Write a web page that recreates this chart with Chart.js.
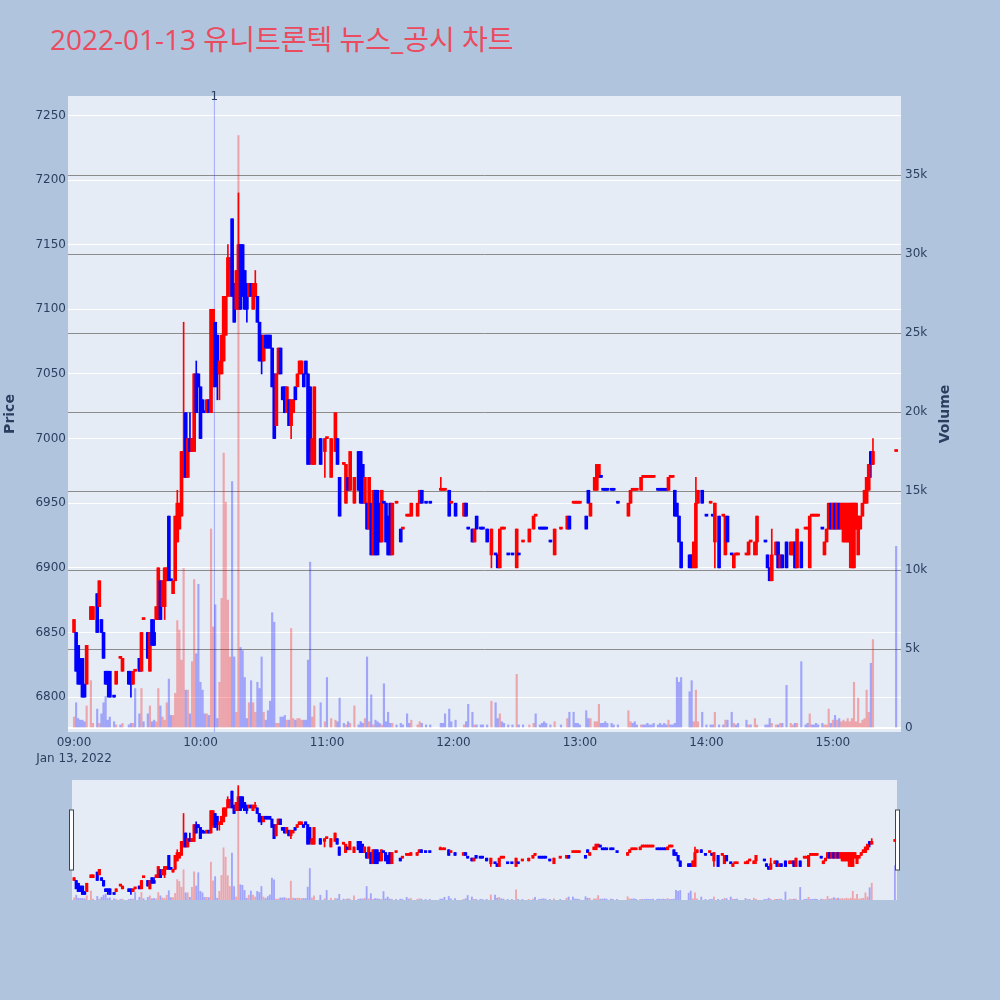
<!DOCTYPE html>
<html>
<head>
<meta charset="utf-8">
<script src="https://cdn.jsdelivr.net/npm/chart.js@4.4.1/dist/chart.umd.min.js"></script>
<style>
  body { margin: 0; width: 1000px; height: 1000px; background: #b0c4de; position: relative; overflow: hidden; }
  #chart-title {
    position: absolute; left: 50px; top: 25px; margin: 0;
    font: 28px/28px "Open Sans", "Noto Sans CJK KR", sans-serif;
    color: #eb4b5f; white-space: nowrap;
  }
  #main-chart { position: absolute; left: 0; top: 0; }
  #range-chart { position: absolute; left: 0; top: 770px; }
</style>
</head>
<body>
<div id="chart-title">2022-01-13 유니트론텍 뉴스_공시 차트</div>
<canvas id="main-chart" width="1000" height="770"></canvas>
<canvas id="range-chart" width="1000" height="230"></canvas>
<script>
// minutes after 09:00, one row per traded minute
const minutes = [
  0, 1, 2, 3, 4, 5, 6, 8, 9, 11,
  12, 13, 14, 15, 16, 17, 19, 20, 22, 23,
  26, 27, 28, 29, 31, 32, 33, 35, 36, 37,
  38, 39, 40, 41, 42, 43, 44, 45, 46, 47,
  48, 49, 50, 51, 52, 53, 54, 55, 56, 57,
  58, 59, 60, 61, 62, 63, 64, 65, 66, 67,
  68, 69, 70, 71, 72, 73, 74, 75, 76, 77,
  78, 79, 80, 81, 82, 83, 84, 85, 86, 87,
  88, 89, 90, 91, 92, 93, 94, 95, 96, 97,
  98, 99, 100, 101, 102, 103, 104, 105, 106, 107,
  108, 109, 110, 111, 112, 113, 114, 117, 119, 120,
  122, 124, 125, 126, 128, 129, 130, 131, 133, 135,
  136, 137, 138, 139, 140, 141, 142, 143, 144, 145,
  146, 147, 148, 149, 150, 151, 153, 155, 156, 158,
  159, 160, 163, 164, 165, 167, 169, 174, 175, 176,
  178, 179, 181, 185, 186, 187, 189, 190, 191, 193,
  194, 196, 198, 200, 201, 202, 203, 204, 206, 208,
  210, 211, 213, 216, 218, 219, 221, 222, 223, 224,
  226, 228, 231, 234, 235, 237, 238, 239, 240, 243,
  244, 245, 247, 248, 249, 250, 251, 252, 253, 255,
  256, 258, 263, 264, 265, 266, 267, 269, 270, 271,
  272, 273, 274, 275, 277, 278, 279, 280, 281, 282,
  283, 284, 285, 286, 287, 288, 292, 293, 294, 295,
  296, 298, 300, 302, 303, 304, 306, 308, 309, 310,
  312, 313, 314, 315, 319, 320, 321, 323, 324, 328,
  329, 330, 331, 333, 334, 335, 336, 338, 340, 341,
  342, 343, 345, 347, 348, 349, 350, 351, 352, 353,
  355, 356, 357, 358, 359, 360, 361, 362, 363, 364,
  365, 366, 367, 368, 369, 370, 371, 372, 373, 374,
  375, 376, 377, 378, 379, 390
];

const opens = [
  6850, 6850, 6840, 6830, 6830, 6810, 6810, 6860, 6860, 6880,
  6870, 6860, 6850, 6820, 6820, 6820, 6800, 6810, 6830, 6820,
  6820, 6820, 6810, 6820, 6830, 6820, 6860, 6850, 6820, 6860,
  6850, 6860, 6860, 6890, 6870, 6870, 6890, 6940, 6890, 6880,
  6890, 6920, 6930, 6940, 6970, 7020, 6970, 7000, 6990, 6990,
  7050, 7050, 7040, 7030, 7020, 7020, 7030, 7020, 7050, 7090,
  7080, 7050, 7050, 7060, 7080, 7110, 7130, 7170, 7120, 7100,
  7100, 7150, 7150, 7130, 7120, 7110, 7120, 7100, 7110, 7110,
  7090, 7080, 7060, 7080, 7080, 7080, 7070, 7050, 7010, 7050,
  7070, 7040, 7040, 7020, 7030, 7010, 7020, 7040, 7040, 7050,
  7050, 7050, 7060, 7050, 7040, 6980, 6980, 7000, 6990, 7000,
  6970, 6990, 7000, 6970, 6980, 6950, 6970, 6960, 6950, 6990,
  6990, 6980, 6950, 6950, 6930, 6950, 6910, 6960, 6960, 6950,
  6920, 6950, 6950, 6940, 6950, 6910, 6950, 6930, 6930, 6940,
  6940, 6940, 6940, 6950, 6960, 6950, 6950, 6960, 6960, 6960,
  6960, 6950, 6950, 6940, 6950, 6930, 6930, 6920, 6940, 6930,
  6930, 6930, 6910, 6910, 6910, 6900, 6930, 6930, 6910, 6910,
  6900, 6910, 6920, 6920, 6930, 6940, 6930, 6930, 6930, 6930,
  6920, 6910, 6930, 6930, 6940, 6950, 6950, 6950, 6950, 6940,
  6960, 6940, 6960, 6960, 6970, 6970, 6960, 6960, 6960, 6960,
  6960, 6950, 6940, 6950, 6960, 6960, 6960, 6960, 6970, 6970,
  6970, 6970, 6970, 6970, 6960, 6960, 6960, 6960, 6960, 6960,
  6970, 6970, 6960, 6950, 6940, 6920, 6910, 6910, 6900, 6900,
  6950, 6960, 6940, 6950, 6940, 6920, 6940, 6940, 6910, 6940,
  6910, 6900, 6910, 6910, 6910, 6910, 6920, 6910, 6920, 6920,
  6910, 6900, 6890, 6910, 6920, 6900, 6910, 6920, 6910, 6910,
  6920, 6900, 6920, 6930, 6930, 6900, 6940, 6940, 6940, 6940,
  6930, 6910, 6920, 6930, 6950, 6930, 6950, 6930, 6950, 6930,
  6920, 6920, 6920, 6920, 6900, 6900, 6930, 6910, 6930, 6940,
  6950, 6950, 6960, 6990, 6980, 6990
];

const highs = [
  6860, 6850, 6840, 6830, 6830, 6810, 6840, 6870, 6870, 6880,
  6890, 6860, 6850, 6820, 6820, 6820, 6800, 6820, 6830, 6830,
  6820, 6820, 6820, 6820, 6830, 6850, 6860, 6850, 6850, 6860,
  6860, 6870, 6900, 6890, 6890, 6900, 6900, 6940, 6890, 6890,
  6940, 6960, 6950, 6990, 7090, 7020, 7000, 7020, 7000, 7050,
  7060, 7050, 7040, 7030, 7020, 7030, 7030, 7100, 7100, 7090,
  7080, 7060, 7080, 7110, 7110, 7150, 7140, 7170, 7120, 7130,
  7190, 7150, 7150, 7130, 7120, 7120, 7120, 7120, 7130, 7110,
  7090, 7080, 7080, 7080, 7080, 7080, 7070, 7050, 7050, 7070,
  7070, 7040, 7040, 7040, 7030, 7030, 7030, 7040, 7050, 7060,
  7060, 7050, 7060, 7050, 7040, 7000, 7040, 7000, 7000, 7000,
  7000, 7020, 7000, 6970, 6980, 6980, 6970, 6990, 6970, 6990,
  6990, 6980, 6970, 6950, 6970, 6950, 6960, 6960, 6960, 6950,
  6960, 6950, 6950, 6940, 6950, 6950, 6950, 6930, 6930, 6940,
  6940, 6950, 6950, 6960, 6960, 6950, 6950, 6970, 6960, 6960,
  6960, 6950, 6950, 6950, 6950, 6930, 6930, 6930, 6940, 6930,
  6930, 6930, 6930, 6910, 6910, 6930, 6930, 6930, 6910, 6910,
  6930, 6910, 6920, 6930, 6940, 6940, 6930, 6930, 6930, 6930,
  6920, 6930, 6930, 6940, 6940, 6950, 6950, 6950, 6950, 6940,
  6960, 6950, 6970, 6980, 6980, 6970, 6960, 6960, 6960, 6960,
  6960, 6950, 6950, 6960, 6960, 6960, 6960, 6970, 6970, 6970,
  6970, 6970, 6970, 6970, 6960, 6960, 6960, 6960, 6960, 6970,
  6970, 6970, 6960, 6950, 6940, 6920, 6910, 6910, 6920, 6970,
  6960, 6960, 6940, 6950, 6940, 6950, 6940, 6940, 6940, 6940,
  6910, 6910, 6910, 6910, 6910, 6920, 6920, 6920, 6940, 6920,
  6910, 6900, 6930, 6920, 6920, 6910, 6910, 6920, 6920, 6920,
  6920, 6930, 6920, 6930, 6930, 6940, 6940, 6940, 6940, 6940,
  6930, 6920, 6930, 6950, 6950, 6950, 6950, 6950, 6950, 6950,
  6950, 6950, 6950, 6950, 6950, 6950, 6950, 6940, 6940, 6950,
  6960, 6970, 6980, 6990, 7000, 6990
];

const lows = [
  6850, 6820, 6810, 6810, 6800, 6800, 6810, 6860, 6860, 6850,
  6870, 6850, 6830, 6810, 6800, 6800, 6800, 6810, 6830, 6820,
  6810, 6800, 6810, 6820, 6820, 6820, 6860, 6830, 6820, 6840,
  6840, 6860, 6860, 6860, 6870, 6860, 6890, 6890, 6890, 6880,
  6890, 6920, 6930, 6940, 6970, 6970, 6970, 6990, 6990, 6990,
  7020, 7040, 7000, 7020, 7020, 7020, 7020, 7020, 7040, 7040,
  7030, 7030, 7050, 7060, 7080, 7110, 7110, 7110, 7090, 7100,
  7100, 7100, 7110, 7100, 7090, 7110, 7110, 7100, 7110, 7090,
  7060, 7050, 7060, 7070, 7070, 7070, 7040, 7000, 7010, 7050,
  7050, 7030, 7020, 7020, 7010, 7000, 7020, 7030, 7040, 7050,
  7050, 7040, 7050, 6980, 6980, 6980, 6980, 6980, 6970, 7000,
  6970, 6990, 6980, 6940, 6980, 6950, 6960, 6960, 6950, 6960,
  6950, 6950, 6950, 6930, 6930, 6910, 6910, 6910, 6910, 6920,
  6920, 6950, 6920, 6910, 6910, 6910, 6950, 6920, 6930, 6940,
  6940, 6940, 6940, 6950, 6950, 6950, 6950, 6960, 6960, 6960,
  6940, 6950, 6940, 6940, 6940, 6930, 6920, 6920, 6930, 6930,
  6930, 6920, 6900, 6910, 6900, 6900, 6930, 6930, 6910, 6910,
  6900, 6910, 6920, 6920, 6930, 6940, 6930, 6930, 6930, 6930,
  6920, 6910, 6930, 6930, 6930, 6950, 6950, 6950, 6950, 6930,
  6950, 6940, 6960, 6960, 6970, 6970, 6960, 6960, 6960, 6960,
  6960, 6950, 6940, 6950, 6960, 6960, 6960, 6960, 6970, 6970,
  6970, 6970, 6970, 6970, 6960, 6960, 6960, 6960, 6960, 6960,
  6970, 6970, 6940, 6940, 6920, 6900, 6900, 6900, 6900, 6900,
  6950, 6950, 6940, 6950, 6940, 6900, 6900, 6940, 6910, 6920,
  6910, 6900, 6910, 6910, 6910, 6910, 6920, 6910, 6910, 6920,
  6900, 6890, 6890, 6910, 6900, 6900, 6900, 6900, 6910, 6910,
  6900, 6900, 6900, 6930, 6930, 6900, 6940, 6940, 6940, 6940,
  6930, 6910, 6920, 6930, 6930, 6930, 6930, 6930, 6930, 6930,
  6920, 6920, 6920, 6900, 6900, 6900, 6930, 6910, 6930, 6940,
  6950, 6950, 6960, 6970, 6980, 6990
];

const closes = [
  6860, 6820, 6810, 6810, 6800, 6800, 6840, 6870, 6870, 6850,
  6890, 6850, 6830, 6810, 6810, 6800, 6800, 6820, 6830, 6830,
  6810, 6810, 6820, 6820, 6820, 6850, 6860, 6830, 6850, 6840,
  6840, 6870, 6900, 6860, 6890, 6900, 6900, 6890, 6890, 6890,
  6940, 6950, 6950, 6990, 6990, 6970, 7000, 6990, 7000, 7050,
  7020, 7040, 7000, 7020, 7020, 7030, 7020, 7100, 7100, 7040,
  7050, 7060, 7080, 7110, 7110, 7140, 7140, 7110, 7090, 7130,
  7150, 7100, 7110, 7100, 7100, 7120, 7110, 7120, 7120, 7090,
  7060, 7060, 7080, 7070, 7070, 7070, 7040, 7000, 7050, 7070,
  7050, 7030, 7020, 7040, 7010, 7030, 7030, 7030, 7050, 7060,
  7060, 7040, 7050, 6980, 6990, 7000, 7040, 6980, 7000, 7000,
  7000, 7020, 6980, 6940, 6980, 6980, 6960, 6990, 6970, 6960,
  6950, 6950, 6970, 6930, 6970, 6910, 6960, 6910, 6910, 6920,
  6960, 6950, 6920, 6910, 6910, 6950, 6950, 6920, 6930, 6940,
  6940, 6950, 6950, 6960, 6950, 6950, 6950, 6960, 6960, 6960,
  6940, 6950, 6940, 6950, 6940, 6930, 6920, 6930, 6930, 6930,
  6930, 6920, 6930, 6910, 6900, 6930, 6930, 6930, 6910, 6910,
  6930, 6910, 6920, 6930, 6940, 6940, 6930, 6930, 6930, 6930,
  6920, 6930, 6930, 6940, 6930, 6950, 6950, 6950, 6950, 6930,
  6950, 6950, 6970, 6980, 6980, 6970, 6960, 6960, 6960, 6960,
  6960, 6950, 6950, 6960, 6960, 6960, 6960, 6970, 6970, 6970,
  6970, 6970, 6970, 6970, 6960, 6960, 6960, 6960, 6960, 6970,
  6970, 6970, 6940, 6940, 6920, 6900, 6900, 6900, 6920, 6950,
  6960, 6950, 6940, 6950, 6940, 6950, 6900, 6940, 6940, 6920,
  6910, 6910, 6910, 6910, 6910, 6920, 6920, 6920, 6940, 6920,
  6900, 6890, 6910, 6920, 6900, 6910, 6900, 6900, 6920, 6920,
  6900, 6930, 6900, 6930, 6930, 6940, 6940, 6940, 6940, 6940,
  6930, 6920, 6930, 6950, 6930, 6950, 6930, 6950, 6930, 6950,
  6950, 6950, 6950, 6950, 6950, 6950, 6950, 6940, 6940, 6950,
  6960, 6970, 6980, 6980, 6990, 6990
];

const volumes = [
  700, 1600, 600, 500, 500, 400, 1400, 3000, 300, 1200,
  300, 900, 1600, 2000, 500, 700, 400, 200, 200, 300,
  200, 300, 300, 2500, 900, 2500, 400, 900, 1400, 400,
  500, 400, 2500, 1400, 700, 500, 1600, 3100, 800, 800,
  2200, 6800, 6200, 4300, 10100, 2400, 2400, 900, 4200, 9400,
  4700, 9100, 2900, 2400, 900, 900, 800, 12600, 6400, 7800,
  600, 2900, 8200, 17400, 14300, 8100, 4500, 15600, 4500, 1000,
  37500, 5100, 4900, 3200, 600, 1600, 3000, 1600, 1000, 2900,
  2500, 4500, 1000, 500, 1100, 1700, 7300, 6700, 300, 300,
  700, 700, 800, 500, 500, 6300, 600, 500, 600, 600,
  500, 500, 500, 4300, 10500, 700, 1400, 1600, 400, 3200,
  600, 500, 400, 1900, 300, 200, 400, 300, 1400, 200,
  400, 300, 600, 4500, 400, 2100, 200, 500, 400, 300,
  200, 2800, 400, 1000, 300, 300, 200, 300, 200, 900,
  300, 500, 200, 400, 300, 200, 200, 300, 300, 900,
  1200, 400, 500, 200, 400, 1500, 1000, 200, 200, 200,
  200, 200, 1700, 1600, 600, 900, 400, 300, 200, 200,
  3400, 200, 200, 200, 300, 900, 200, 300, 400, 300,
  200, 400, 200, 600, 1000, 1000, 300, 300, 200, 1100,
  600, 600, 400, 400, 1500, 300, 300, 400, 300, 300,
  200, 200, 1100, 400, 300, 400, 200, 200, 200, 200,
  300, 200, 200, 300, 200, 300, 200, 300, 200, 500,
  200, 200, 300, 3200, 2900, 3200, 2300, 3000, 400, 2400,
  400, 1000, 200, 200, 200, 1000, 200, 200, 500, 500,
  1000, 300, 200, 300, 500, 200, 200, 600, 200, 200,
  200, 600, 300, 200, 200, 300, 300, 2700, 300, 200,
  300, 300, 4200, 200, 300, 900, 200, 200, 300, 200,
  300, 200, 200, 1200, 300, 500, 800, 500, 600, 400,
  500, 400, 600, 400, 600, 2900, 400, 1900, 300, 500,
  600, 2400, 1000, 4100, 5600, 11500
];

const newsMinute = 66.6;
const newsLabel = '1';

const priceTicks = [6800, 6850, 6900, 6950, 7000, 7050, 7100, 7150, 7200, 7250];
const volumeTicks = [0, 5000, 10000, 15000, 20000, 25000, 30000, 35000];
const volumeTickLabels = ['0', '5k', '10k', '15k', '20k', '25k', '30k', '35k'];
const timeTicks = [0, 60, 120, 180, 240, 300, 360];
const timeLabels = ['09:00', '10:00', '11:00', '12:00', '13:00', '14:00', '15:00'];
const dateLabel = 'Jan 13, 2022';

const UP = '#ff0000';
const DOWN = '#0000ff';
const UP_VOL = 'rgba(255, 0, 0, 0.3)';
const DOWN_VOL = 'rgba(0, 0, 255, 0.3)';
const AXIS_TEXT = '#2a3f5f';
const FONT = '"DejaVu Sans", Verdana, sans-serif';

// flat candles take the direction of the move from the previous close
let prevClose = opens[0];
let prevUp = true;
const candleUp = closes.map((c, i) => {
  const o = opens[i];
  let up;
  if (c > o) up = true;
  else if (c < o) up = false;
  else up = c > prevClose ? true : (c < prevClose ? false : prevUp);
  prevClose = c;
  prevUp = up;
  return up;
});
const candleColors = candleUp.map(up => (up ? UP : DOWN));
const volumeColors = closes.map((c, i) => (c > opens[i] ? UP_VOL : DOWN_VOL));

function buildDatasets(bodyWidth, volWidth, withNews) {
  const sets = [
    {
      type: 'bar',
      yAxisID: 'yVol',
      data: minutes.map((m, i) => ({ x: m, y: volumes[i] })),
      backgroundColor: volumeColors,
      barThickness: volWidth,
      grouped: false,
      order: 3
    },
    {
      type: 'bar',
      yAxisID: 'yPrice',
      data: minutes.map((m, i) => ({ x: m, y: [lows[i], highs[i]] })),
      backgroundColor: candleColors,
      barThickness: 1,
      grouped: false,
      order: 1
    },
    {
      type: 'bar',
      yAxisID: 'yPrice',
      data: minutes.map((m, i) => ({ x: m, y: [opens[i], closes[i]] })),
      backgroundColor: candleColors,
      barThickness: bodyWidth,
      minBarLength: 2,
      grouped: false,
      order: 0
    }
  ];
  if (withNews) {
    sets.push({
      type: 'line',
      yAxisID: 'yVol',
      data: [{ x: newsMinute, y: -250 }, { x: newsMinute, y: 40000 }],
      borderColor: 'rgba(60, 70, 255, 0.4)',
      borderWidth: 1,
      pointRadius: 0,
      order: 2
    });
  }
  return sets;
}

const plotBackground = {
  id: 'plotBackground',
  beforeDraw(chart) {
    const { ctx, chartArea: a } = chart;
    ctx.save();
    ctx.fillStyle = '#e5ecf6';
    ctx.fillRect(a.left, a.top, a.right - a.left, a.bottom - a.top);
    ctx.restore();
  }
};

const mainExtras = {
  id: 'mainExtras',
  afterDraw(chart) {
    const { ctx, chartArea: a } = chart;
    ctx.save();
    ctx.fillStyle = AXIS_TEXT;
    ctx.font = '12px ' + FONT;
    ctx.textAlign = 'center';
    ctx.textBaseline = 'middle';
    ctx.fillText(newsLabel, chart.scales.x.getPixelForValue(newsMinute), a.top + 1);

    ctx.translate(945, (a.top + a.bottom) / 2);
    ctx.rotate(-Math.PI / 2);
    ctx.font = 'bold 14px ' + FONT;
    ctx.fillText('Volume', 0, 0);
    ctx.restore();
  }
};

new Chart(document.getElementById('main-chart'), {
  type: 'bar',
  data: { datasets: buildDatasets(3, 1.5, true) },
  options: {
    responsive: false,
    devicePixelRatio: 1,
    animation: false,
    events: [],
    layout: { padding: { top: 96, left: 0, right: 43, bottom: 0 } },
    plugins: { legend: { display: false }, tooltip: { enabled: false } },
    scales: {
      x: {
        type: 'linear',
        min: -2.85,
        max: 392.3,
        offset: false,
        afterBuildTicks: s => { s.ticks = timeTicks.map(v => ({ value: v })); },
        afterFit: s => { s.height = 38; },
        grid: { display: false, drawTicks: false },
        border: { display: false },
        ticks: {
          autoSkip: false,
          maxRotation: 0,
          padding: 3,
          color: AXIS_TEXT,
          font: { family: FONT, size: 12, lineHeight: 1.3 },
          callback: (v, i) => (i === 0 ? [timeLabels[0], dateLabel] : timeLabels[i])
        }
      },
      yPrice: {
        type: 'linear',
        position: 'left',
        min: 6773,
        max: 7265,
        afterBuildTicks: s => { s.ticks = priceTicks.map(v => ({ value: v })); },
        afterFit: s => { s.width = 68; },
        grid: { color: '#ffffff', lineWidth: 1, drawTicks: false },
        border: { display: false },
        ticks: {
          padding: 2,
          color: AXIS_TEXT,
          font: { family: FONT, size: 12 },
          callback: v => String(v)
        },
        title: {
          display: true,
          text: 'Price',
          color: AXIS_TEXT,
          font: { family: FONT, size: 14, weight: 'bold' },
          padding: { top: 2, bottom: 0 }
        }
      },
      yVol: {
        type: 'linear',
        position: 'right',
        min: -250,
        max: 40000,
        afterBuildTicks: s => { s.ticks = volumeTicks.map(v => ({ value: v })); },
        afterFit: s => { s.width = 56; },
        grid: {
          drawTicks: false,
          color: c => (c.tick && c.tick.value === 0 ? '#ffffff' : '#8c8c8c'),
          lineWidth: c => (c.tick && c.tick.value === 0 ? 2 : 1)
        },
        border: { display: false },
        ticks: {
          padding: 4,
          color: AXIS_TEXT,
          font: { family: FONT, size: 12 },
          callback: (v, i) => volumeTickLabels[i]
        }
      }
    }
  },
  plugins: [plotBackground, mainExtras]
});

const rangeHandles = {
  id: 'rangeHandles',
  afterDraw(chart) {
    const { ctx, chartArea: a } = chart;
    ctx.save();
    ctx.fillStyle = '#ffffff';
    ctx.strokeStyle = '#444444';
    ctx.lineWidth = 1;
    [a.left - 2.5, a.right - 1.5].forEach(x => {
      ctx.fillRect(x, a.top + 30, 4, 60);
      ctx.strokeRect(x, a.top + 30, 4, 60);
    });
    ctx.restore();
  }
};

new Chart(document.getElementById('range-chart'), {
  type: 'bar',
  data: { datasets: buildDatasets(2.5, 1.2, false) },
  options: {
    responsive: false,
    devicePixelRatio: 1,
    animation: false,
    events: [],
    layout: { padding: { top: 10, left: 72, right: 103, bottom: 100 } },
    plugins: { legend: { display: false }, tooltip: { enabled: false } },
    scales: {
      x: { type: 'linear', min: -1, max: 391, offset: false, display: false },
      yPrice: { type: 'linear', min: 6780, max: 7210, display: false },
      yVol: { type: 'linear', min: 0, max: 40000, display: false }
    }
  },
  plugins: [plotBackground, rangeHandles]
});
</script>
</body>
</html>
